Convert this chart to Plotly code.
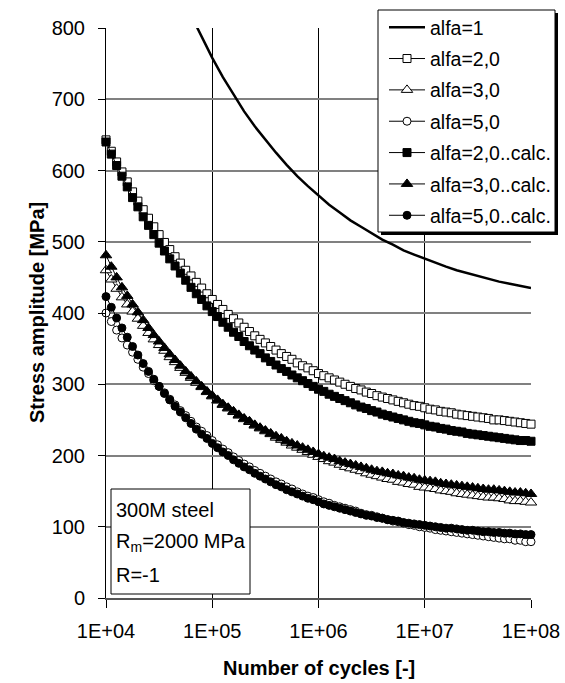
import plotly.graph_objects as go

# ---- data -------------------------------------------------------------
LOG10_CYCLES = [4.00, 4.05, 4.10, 4.15, 4.20, 4.25, 4.30, 4.35, 4.40, 4.45,
                4.50, 4.55, 4.60, 4.65, 4.70, 4.75, 4.80, 4.85, 4.90, 4.95,
                5.00, 5.05, 5.10, 5.15, 5.20, 5.25, 5.30, 5.35, 5.40, 5.45,
                5.50, 5.55, 5.60, 5.65, 5.70, 5.75, 5.80, 5.85, 5.90, 5.95,
                6.00, 6.05, 6.10, 6.15, 6.20, 6.25, 6.30, 6.35, 6.40, 6.45,
                6.50, 6.55, 6.60, 6.65, 6.70, 6.75, 6.80, 6.85, 6.90, 6.95,
                7.00, 7.05, 7.10, 7.15, 7.20, 7.25, 7.30, 7.35, 7.40, 7.45,
                7.50, 7.55, 7.60, 7.65, 7.70, 7.75, 7.80, 7.85, 7.90, 7.95,
                8.00]

ALFA1_LOG10_CYCLES = [4.8, 4.9, 5.0, 5.1, 5.2, 5.3, 5.4, 5.5, 5.6, 5.7, 5.8,
                      5.9, 6.0, 6.1, 6.2, 6.3, 6.4, 6.5, 6.6, 6.7, 6.8, 6.9,
                      7.0, 7.1, 7.2, 7.3, 7.4, 7.5, 7.6, 7.7, 7.8, 7.9, 8.0]
ALFA1 = [818, 787, 758, 731, 706, 683, 662, 643, 625, 608, 592,
         578, 565, 552, 541, 530, 521, 512, 503, 496, 488, 482,
         476, 470, 465, 460, 456, 451, 448, 444, 441, 438, 435]

ALFA2 = [643, 627, 612, 598, 584, 570, 557, 545, 533, 521,
         510, 499, 489, 479, 470, 460, 452, 443, 435, 427,
         419, 412, 405, 398, 392, 386, 380, 374, 368, 363,
         358, 353, 348, 343, 339, 335, 330, 326, 323, 319,
         315, 312, 309, 306, 303, 300, 297, 294, 292, 289,
         287, 284, 282, 280, 278, 276, 274, 272, 270, 269,
         267, 265, 264, 262, 261, 260, 258, 257, 256, 255,
         254, 253, 252, 250, 250, 249, 248, 247, 246, 245,
         244]

ALFA3 = [460, 447, 434, 422, 412, 402, 392, 382, 372, 363,
         355, 347, 338, 331, 323, 316, 309, 302, 296, 289,
         283, 277, 271, 266, 261, 256, 251, 247, 242, 238,
         234, 230, 225, 222, 218, 214, 211, 208, 205, 201,
         198, 195, 192, 190, 187, 184, 182, 180, 178, 175,
         173, 171, 169, 167, 166, 163, 162, 160, 159, 156,
         155, 154, 153, 151, 150, 149, 147, 146, 145, 144,
         143, 142, 141, 141, 140, 139, 137, 136, 136, 135,
         134]

ALFA5 = [400, 388, 376, 365, 355, 345, 335, 324, 315, 305,
         297, 288, 279, 271, 263, 256, 248, 240, 234, 228,
         221, 215, 209, 204, 198, 193, 188, 184, 179, 175,
         171, 167, 163, 160, 156, 153, 149, 146, 143, 141,
         138, 135, 133, 130, 128, 126, 124, 122, 119, 117,
         116, 114, 112, 110, 108, 107, 105, 103, 102, 100,
         99, 98, 96, 95, 94, 93, 92, 91, 90, 89,
         88, 87, 86, 85, 84, 83, 83, 81, 81, 79,
         79]

ALFA2_CALC = [640, 623, 607, 592, 577, 562, 549, 535, 523, 510,
              498, 487, 476, 466, 456, 446, 436, 427, 419, 410,
              402, 395, 387, 380, 373, 367, 360, 354, 348, 343,
              337, 332, 327, 322, 318, 313, 309, 305, 301, 297,
              293, 290, 286, 283, 280, 277, 274, 271, 268, 266,
              263, 261, 258, 256, 254, 252, 250, 248, 246, 245,
              243, 241, 240, 238, 237, 235, 234, 233, 231, 230,
              229, 228, 227, 226, 225, 224, 223, 222, 221, 221,
              220]

ALFA3_CALC = [481, 465, 450, 436, 424, 412, 401, 390, 379, 369,
              360, 351, 342, 334, 326, 318, 311, 304, 297, 290,
              284, 278, 272, 267, 262, 257, 252, 248, 243, 239,
              235, 231, 227, 224, 220, 217, 214, 211, 208, 205,
              202, 199, 197, 195, 192, 190, 188, 186, 184, 182,
              180, 178, 177, 175, 174, 172, 171, 169, 168, 166,
              165, 164, 163, 161, 160, 159, 158, 157, 156, 155,
              154, 153, 152, 152, 151, 150, 149, 148, 148, 147,
              146]

ALFA5_CALC = [423, 408, 393, 379, 366, 353, 341, 329, 318, 307,
              297, 287, 278, 269, 261, 253, 245, 237, 230, 224,
              217, 211, 205, 200, 194, 189, 184, 180, 175, 171,
              167, 163, 159, 156, 152, 149, 146, 143, 140, 138,
              135, 132, 130, 128, 126, 124, 122, 120, 118, 116,
              115, 113, 112, 110, 109, 108, 106, 105, 104, 103,
              102, 101, 100, 99, 98, 98, 97, 96, 95, 95,
              94, 93, 93, 92, 92, 91, 91, 90, 90, 89,
              89]

X_TICK_VALS = [1e4, 1e5, 1e6, 1e7, 1e8]
X_TICK_TEXT = ["1E+04", "1E+05", "1E+06", "1E+07", "1E+08"]
Y_TICK_VALS = [0, 100, 200, 300, 400, 500, 600, 700, 800]

NAMES = ["alfa=1", "alfa=2,0", "alfa=3,0", "alfa=5,0",
         "alfa=2,0..calc.", "alfa=3,0..calc.", "alfa=5,0..calc."]

INFO_LINES = ["300M steel", "R<sub>m</sub>=2000 MPa", "R=-1"]

# ---- figure -----------------------------------------------------------
FONT = "Liberation Sans, Arial, sans-serif"
cycles = [10 ** e for e in LOG10_CYCLES]
cycles_a1 = [10 ** e for e in ALFA1_LOG10_CYCLES]

fig = go.Figure()

fig.add_trace(go.Scatter(x=cycles_a1, y=ALFA1, name=NAMES[0], mode="lines",
                         legendgroup="g0",
                         line=dict(color="black", width=2.5), cliponaxis=True))

marker_specs = [
    (ALFA2, NAMES[1], "square", "white", 8),
    (ALFA3, NAMES[2], "triangle-up", "white", 10),
    (ALFA5, NAMES[3], "circle", "white", 8),
    (ALFA2_CALC, NAMES[4], "square", "black", 8),
    (ALFA3_CALC, NAMES[5], "triangle-up", "black", 10),
    (ALFA5_CALC, NAMES[6], "circle", "black", 8),
]
for i, (vals, name, sym, fill, size) in enumerate(marker_specs):
    fig.add_trace(go.Scatter(
        x=cycles, y=vals, name=name, mode="lines+markers",
        legendgroup="g%d" % (i + 1),
        line=dict(color="black", width=1),
        marker=dict(symbol=sym, size=size, color=fill,
                    line=dict(color="black", width=1)),
        cliponaxis=False))

fig.update_xaxes(type="log", range=[4, 8], tickvals=X_TICK_VALS,
                 ticktext=X_TICK_TEXT, showgrid=True, gridcolor="black",
                 gridwidth=1, ticks="outside", ticklen=8, tickcolor="black",
                 showline=True, linecolor="#555555", linewidth=2,
                 ticklabelstandoff=6,
                 tickfont=dict(family=FONT, size=20, color="black"),
                 zeroline=False)
fig.update_yaxes(range=[0, 800], tickvals=Y_TICK_VALS, showgrid=True,
                 gridcolor="#808080", gridwidth=1.5, ticks="outside",
                 ticklen=7, tickcolor="black", showline=True,
                 linecolor="black", linewidth=1,
                 ticklabelstandoff=9,
                 tickfont=dict(family=FONT, size=20, color="black"),
                 zeroline=False)

PL, PR, PT, PB = 106, 34, 28, 85
W, H = 565, 683
pw, ph = W - PL - PR, H - PT - PB


def px(xp):
    return (xp - PL) / pw


def py(yp):
    return (H - PB - yp) / ph


annotations = [
    dict(text="<b>Number of cycles [-]</b>", x=0.5, y=py(668), xref="paper",
         yref="paper", showarrow=False, xanchor="center", yanchor="middle",
         font=dict(family=FONT, size=20, color="black")),
    dict(text="<b>Stress amplitude [MPa]</b>", x=px(37), y=0.5, xref="paper",
         yref="paper", showarrow=False, textangle=-90, xanchor="center",
         yanchor="middle", font=dict(family=FONT, size=20, color="black")),
]
for line, ycen in zip(INFO_LINES, [510, 542, 575]):
    annotations.append(dict(text=line, x=px(114), y=py(ycen), xref="paper",
                            yref="paper", showarrow=False, xanchor="left",
                            yanchor="middle",
                            font=dict(family=FONT, size=20, color="black")))

shapes = [
    # info box
    dict(type="rect", xref="paper", yref="paper", x0=px(111), x1=px(250),
         y0=py(594), y1=py(489), line=dict(color="black", width=1),
         fillcolor="white", layer="above"),
    # legend shadow and frame
    dict(type="rect", xref="paper", yref="paper", x0=px(381), x1=px(558),
         y0=py(235), y1=py(13), line=dict(width=0),
         fillcolor="black", layer="above"),
    dict(type="rect", xref="paper", yref="paper", x0=px(378), x1=px(555),
         y0=py(232), y1=py(10), line=dict(color="black", width=1),
         fillcolor="white", layer="above"),
]

fig.update_layout(
    width=W, height=H, margin=dict(l=PL, r=PR, t=PT, b=PB, autoexpand=False),
    paper_bgcolor="white", plot_bgcolor="white",
    font=dict(family=FONT, size=20, color="black"),
    showlegend=True,
    legend=dict(x=px(384), y=py(8), xanchor="left", yanchor="top",
                bgcolor="rgba(0,0,0,0)", borderwidth=0,
                traceorder="grouped", tracegroupgap=3,
                itemwidth=36,
                font=dict(family=FONT, size=19.5, color="black")),
    annotations=annotations, shapes=shapes,
)

fig.write_html("out.html")
